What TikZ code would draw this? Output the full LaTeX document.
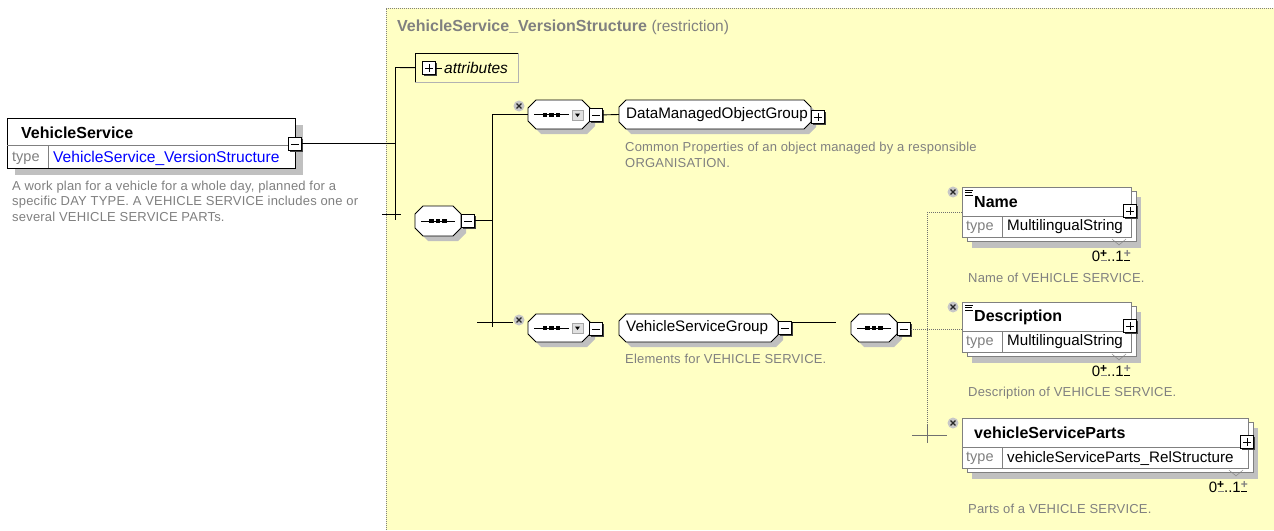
\documentclass[tikz,border=0pt]{standalone}
\usepackage{fontspec}
\setmainfont{Liberation Sans}
\newfontfamily\docfont[LetterSpace=1.5]{Liberation Sans}
\usetikzlibrary{calc,fit}
\definecolor{bgyellow}{HTML}{FFFFC4}
\definecolor{shadowc}{HTML}{C0C0C0}
\definecolor{docgray}{HTML}{808080}
\definecolor{linkblue}{HTML}{0000FF}
\definecolor{boxgray}{HTML}{808080}
\definecolor{dotc}{HTML}{707070}
\tikzset{
 lbl/.style={inner sep=0, anchor=west, font=\fontsize{15.2}{17}\selectfont},
 bname/.style={inner sep=0, anchor=west, font=\fontsize{16}{18}\selectfont\bfseries},
 typet/.style={inner sep=0, anchor=west, text=docgray, font=\fontsize{14.5}{17}\selectfont},
 doc/.style={inner sep=0, anchor=west, text=docgray, font=\docfont\fontsize{13}{15}\selectfont},
 mult/.style={inner sep=0, font=\fontsize{15}{17}\selectfont},
 conn/.style={line width=0.9pt},
 dotconn/.style={dotc, line width=0.7pt, dash pattern=on 1pt off 1pt},
 tick/.style={dotc, line width=0.8pt},
}
\newcommand\pmst[2]{\makebox[7pt][c]{\makebox[0pt][c]{\raisebox{4pt}{\textcolor{#1}{\fontsize{12}{12}\selectfont\textbf{+}}}}\makebox[0pt][c]{\textcolor{#2}{\rule{6pt}{1.1pt}}}}}
\newcommand\mnbox[3]{%
 \fill[black!75] (#2+2,#3+2) rectangle (#2+15,#3+15);
 \node[draw=black, fill=white, minimum width=13pt, minimum height=13pt, inner sep=0, anchor=north west, line width=0.8pt] (#1) at (#2,#3) {};
 \draw[line width=0.8pt] ($(#1.west)+(3,0)$) -- ($(#1.east)+(-3,0)$);}
\newcommand\plbx[3]{%
 \fill[black!75] (#2+2,#3+2) rectangle (#2+15,#3+15);
 \node[draw=black, fill=white, minimum width=13pt, minimum height=13pt, inner sep=0, anchor=north west, line width=0.8pt] (#1) at (#2,#3) {};
 \draw[line width=0.8pt] ($(#1.west)+(3,0)$) -- ($(#1.east)+(-3,0)$) ($(#1.north)+(0,3)$) -- ($(#1.south)+(0,-3)$);}
\newcommand\octshape[6]{%
 \fill[shadowc] (#2+#6+5,#3+5) -- (#4-#6+5,#3+5) -- (#4+5,#3+#6+5) -- (#4+5,#5-#6+5) -- (#4-#6+5,#5+5) -- (#2+#6+5,#5+5) -- (#2+5,#5-#6+5) -- (#2+5,#3+#6+5) -- cycle;
 \draw[line width=0.9pt, fill=white] (#2+#6,#3) -- (#4-#6,#3) -- (#4,#3+#6) -- (#4,#5-#6) -- (#4-#6,#5) -- (#2+#6,#5) -- (#2,#5-#6) -- (#2,#3+#6) -- cycle;
 \coordinate (#1-nw) at (#2,#3); \coordinate (#1-se) at (#4,#5);
 \node[inner sep=0, fit=(#1-nw)(#1-se)] (#1) {};}
\newcommand\seqsym[3]{%
 \draw[line width=0.9pt] (#1,#2) -- (#1+#3,#2);
 \fill (#1+#3/2-8.75,#2-2) rectangle (#1+#3/2-4.25,#2+2);
 \fill (#1+#3/2-2.25,#2-2) rectangle (#1+#3/2+2.25,#2+2);
 \fill (#1+#3/2+4.25,#2-2) rectangle (#1+#3/2+8.75,#2+2);}
\newcommand\ddicon[2]{%
 \filldraw[fill=black!12, draw=black!35] (#1,#2) rectangle (#1+11,#2+10);
 \fill (#1+3,#2+3.5) -- (#1+8,#2+3.5) -- (#1+5.5,#2+7) -- cycle;}
\newcommand\xmk[3]{%
 \fill[black!22] (#2,#3) circle (5.5pt);
 \draw[line width=1.2pt, black!85] (#2-2.4,#3-2.4) -- (#2+2.4,#3+2.4) (#2-2.4,#3+2.4) -- (#2+2.4,#3-2.4);
 \coordinate (#1) at (#2,#3);}
\newcommand\elembox[7]{%
 \fill[shadowc] (#2+10,#3+10) rectangle (#2+#4+10,#3+61);
 \draw[boxgray, fill=white] (#2+5,#3+4) rectangle (#2+#4+5,#3+54);
 \node[draw=boxgray, fill=white, anchor=north west, minimum width=#4pt, minimum height=50pt, inner sep=0] (#1) at (#2,#3) {};
 \draw[boxgray] (#2,#3+29) -- (#2+#4,#3+29) (#2+40,#3+29) -- (#2+40,#3+50);
 \node[bname] (#1-t) at (#2+12,#3+15) {#5};
 \node[typet] (#1-k) at (#2+4,#3+40) {type};
 \node[lbl] (#1-v) at (#2+45,#3+40) {#6};
 \plbx{#1-p}{#2+#4-8}{#3+17}
 \draw[black!50] (#2+#4-19,#3+52) -- (#2+#4-12,#3+58) -- (#2+#4-5,#3+52);
 \node[mult, anchor=east] (#1-m) at (#2+#4,#3+69) {0\pmst{black}{docgray}..1\pmst{docgray}{black}};
 \node[doc] (#1-d) at (#2+6,#3+91) {#7};
 \xmk{#1-x}{#2-9}{#3+5}}
\newcommand\lnicon[2]{%
 \draw[line width=0.8pt] (#1,#2) -- (#1+8,#2) (#1,#2+2.5) -- (#1+7,#2+2.5) (#1,#2+5) -- (#1+8,#2+5);}
\begin{document}
\begin{tikzpicture}[x=1pt,y=-1pt]
\useasboundingbox (0,0) rectangle (1274,530);
\fill[white] (0,0) rectangle (1274,530);
% yellow type area
\fill[bgyellow] (386,8) rectangle (1274,530);
\draw[docgray, line width=0.6pt, dash pattern=on 1pt off 1pt] (386,530) -- (386,8) -- (1274,8);
\node[inner sep=0, anchor=west, text=docgray, font=\fontsize{16}{18}\selectfont\bfseries] (title) at (397,27) {VehicleService\_VersionStructure};
\node[inner sep=0, anchor=west, text=docgray, font=\fontsize{15.5}{17}\selectfont] (titleR) at ($(title.east)+(4,0)$) {(restriction)};

% VehicleService element
\fill[shadowc] (15,125) rectangle (303,175);
\node[draw, fill=white, anchor=north west, minimum width=288pt, minimum height=50pt, inner sep=0, line width=0.8pt] (vs) at (7,118) {};
\draw[boxgray] (7,145) -- (295,145) (48,145) -- (48,168);
\node[bname] (vsName) at (21,133) {VehicleService};
\node[typet] (vsType) at (12,158) {type};
\node[lbl, text=linkblue, font=\fontsize{15.6}{17}\selectfont] (vsTypeV) at (53,158) {VehicleService\_VersionStructure};
\mnbox{vsMin}{288}{137}
\node[doc] (vsDoc1) at (12,187) {A work plan for a vehicle for a whole day, planned for a};
\node[doc] (vsDoc2) at (12,202) {specific DAY TYPE. A VEHICLE SERVICE includes one or};
\node[doc] (vsDoc3) at (12,217) {several VEHICLE SERVICE PARTs.};

% spine
\coordinate (spTop) at (395,67.5);
\coordinate (spBot) at (395,220);
\coordinate (tkL) at (382,214);
\coordinate (tkR) at (401,214);
\draw[conn] (vsMin.east) -- (vsMin.east -| spTop);
\draw[conn] (spTop) -- (spBot);
\draw[conn] (tkL) -- (tkR);

% attributes
\node[anchor=north west, minimum width=103pt, minimum height=29pt, inner sep=0] (attr) at (415,53) {};
\draw[black!30] (attr.north east) -- (attr.south east) -- (attr.south west);
\draw[conn] (attr.south west) -- (attr.north west) -- (attr.north east);
\draw[conn] (spTop) -- (attr.west);
\plbx{attrPlus}{422}{61}
\node[lbl, font=\fontsize{15.5}{17}\selectfont\itshape] (attrT) at (444,68) {attributes};
\draw[line width=0.8pt] (attrPlus.east) -- (attrT.west -| attrPlus.east) -- ++(6,0);

% main sequence
\octshape{seqMain}{415}{206}{461}{236}{8}
\seqsym{421}{221}{34}
\mnbox{seqMainMin}{461}{214}
\coordinate (sp2Top) at (492,114.5);
\coordinate (sp2Bot) at (492,327);
\draw[conn] (seqMainMin.east) -- (seqMainMin.east -| sp2Top);
\draw[conn] (sp2Top) -- (sp2Bot);

% top choice + DataManagedObjectGroup
\octshape{chTop}{528}{100}{590}{129}{8}
\seqsym{534}{114.5}{35}
\ddicon{572}{110}
\mnbox{chTopMin}{589}{108}
\xmk{chTopX}{519}{106}
\draw[conn] (sp2Top) -- (chTop.west);
\octshape{dmog}{619}{100}{811}{129}{7}
\node[lbl] (dmogT) at (626,114.5) {DataManagedObjectGroup};
\plbx{dmogPlus}{811}{110}
\draw[conn] (chTopMin.east) -- (dmog.west);
\node[doc] (dmogDoc1) at (625,148) {Common Properties of an object managed by a responsible};
\node[doc] (dmogDoc2) at (625,163) {ORGANISATION.};

% bottom choice + VehicleServiceGroup
\coordinate (tk2L) at (477,322);
\coordinate (tk2R) at (513,322);
\draw[conn] (tk2L) -- (tk2R);
\xmk{chBotX}{519}{320}
\octshape{chBot}{528}{314}{590}{342}{8}
\seqsym{534}{328}{35}
\ddicon{572}{323}
\mnbox{chBotMin}{589}{322}
\octshape{vsg}{619}{314}{778}{342}{7}
\node[lbl] (vsgT) at (626,328) {VehicleServiceGroup};
\mnbox{vsgMin}{778}{321}
\node[doc] (vsgDoc) at (625,359) {Elements for VEHICLE SERVICE.};
\coordinate (vsgEnd) at (836,322);
\draw[conn] (vsgMin.north east |- vsgEnd) -- (vsgEnd);

% right sequence
\octshape{seqR}{851}{314}{897}{342}{8}
\seqsym{857}{328}{34}
\mnbox{seqRMin}{897}{322}
\coordinate (r2Top) at (927,212);
\coordinate (r2Bot) at (927,435);
\coordinate (r2Mid) at (seqRMin.east -| r2Top);
\draw[dotconn] (seqRMin.east) -- (r2Mid);
\draw[dotconn] (r2Top) -- (r2Bot);

% elements
\elembox{nm}{962}{187}{169}{Name}{MultilingualString}{Name of VEHICLE SERVICE.}
\lnicon{965}{190}
\elembox{ds}{962}{302}{169}{Description}{MultilingualString}{Description of VEHICLE SERVICE.}
\lnicon{965}{305}
\elembox{vp}{962}{418}{286}{vehicleServiceParts}{vehicleServiceParts\_RelStructure}{Parts of a VEHICLE SERVICE.}
\draw[dotconn] (r2Top) -- (r2Top -| nm.west);
\draw[dotconn] (r2Mid) -- (r2Mid -| ds.west);
\coordinate (tk3L) at (912,435);
\coordinate (tk3R) at (947,435);
\coordinate (tk3T) at (927,425);
\coordinate (tk3B) at (927,443);
\draw[tick] (tk3L) -- (tk3R);
\draw[tick] (tk3T) -- (tk3B);
\end{tikzpicture}
\end{document}
